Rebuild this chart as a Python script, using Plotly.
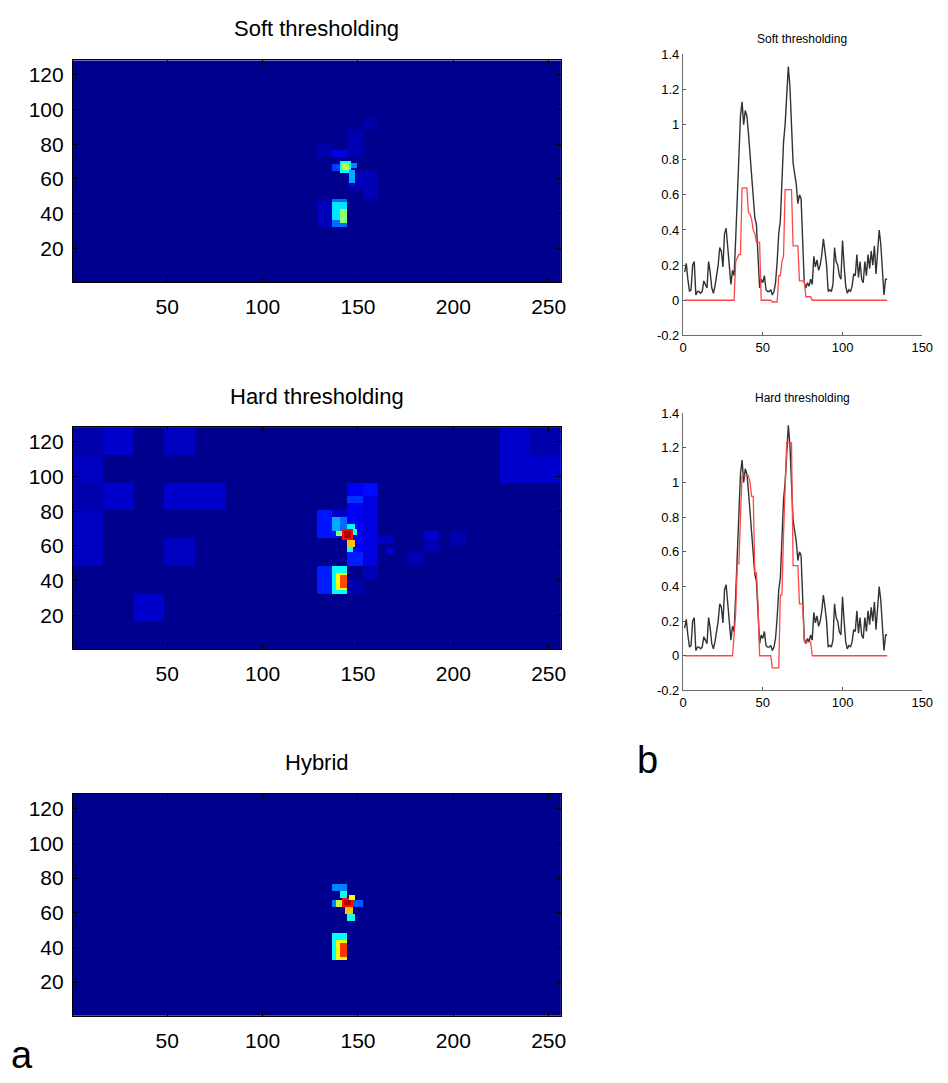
import numpy as np
import plotly.graph_objects as go

# ---------------- data ----------------
# Reconstructed maps on a 128 x 256 grid, described as rectangles:
# (col_start, col_end, row_start, row_end, value), applied in order.
soft_blocks = [
    (153, 160, 89, 95, 0.025),
    (129, 136, 73, 80, 0.03),
    (145, 152, 73, 88, 0.035),
    (137, 144, 73, 76, 0.085),
    (145, 160, 55, 64, 0.04),
    (153, 160, 49, 64, 0.04),
    (137, 140, 65, 68, 0.17),
    (141, 146, 64, 70, 0.37),
    (142, 145, 66, 69, 0.55),
    (147, 149, 67, 69, 0.24),
    (146, 148, 58, 65, 0.28),
    (129, 136, 33, 48, 0.045),
    (137, 144, 33, 48, 0.22),
    (137, 144, 37, 46, 0.34),
    (141, 144, 35, 42, 0.5),
]

hard_blocks = [
    (1, 16, 113, 128, 0.03),
    (17, 32, 113, 128, 0.06),
    (49, 64, 113, 128, 0.05),
    (1, 16, 97, 112, 0.05),
    (1, 16, 81, 96, 0.03),
    (17, 32, 81, 96, 0.06),
    (49, 80, 81, 96, 0.06),
    (1, 16, 65, 80, 0.05),
    (1, 16, 49, 64, 0.05),
    (49, 64, 49, 64, 0.05),
    (33, 48, 17, 32, 0.06),
    (225, 240, 113, 128, 0.06),
    (241, 256, 113, 128, 0.03),
    (225, 256, 97, 112, 0.06),
    (185, 192, 65, 68, 0.07),
    (185, 192, 57, 64, 0.035),
    (177, 184, 49, 56, 0.035),
    (199, 206, 61, 68, 0.03),
    (161, 168, 62, 66, 0.05),
    (165, 168, 56, 59, 0.07),
    (145, 152, 49, 96, 0.1),
    (145, 152, 85, 88, 0.16),
    (153, 160, 89, 96, 0.12),
    (153, 160, 49, 88, 0.08),
    (153, 160, 41, 48, 0.04),
    (145, 152, 33, 40, 0.03),
    (129, 144, 65, 80, 0.13),
    (137, 144, 77, 80, 0.06),
    (137, 140, 69, 76, 0.28),
    (141, 144, 69, 76, 0.22),
    (145, 148, 70, 72, 0.36),
    (139, 141, 66, 68, 0.5),
    (142, 147, 64, 69, 0.86),
    (143, 146, 65, 68, 0.95),
    (148, 149, 67, 69, 0.4),
    (145, 148, 60, 63, 0.68),
    (145, 147, 57, 59, 0.38),
    (145, 152, 49, 56, 0.14),
    (129, 136, 33, 48, 0.14),
    (137, 144, 33, 48, 0.37),
    (139, 144, 35, 44, 0.62),
    (141, 144, 36, 43, 0.8),
]

hybrid_blocks = [
    (137, 144, 73, 76, 0.24),
    (141, 144, 69, 72, 0.38),
    (137, 140, 64, 67, 0.24),
    (139, 141, 64, 67, 0.55),
    (142, 147, 64, 68, 0.86),
    (143, 146, 65, 67, 0.95),
    (146, 148, 68, 70, 0.62),
    (148, 152, 64, 67, 0.2),
    (144, 147, 60, 63, 0.68),
    (145, 148, 56, 59, 0.38),
    (137, 144, 33, 48, 0.37),
    (139, 144, 33, 44, 0.6),
    (141, 144, 35, 42, 0.82),
]

# 1-D profiles (128 samples)
profile_x = list(range(1, 129))
original = [
    0.16, 0.21, 0.12, 0.05, 0.06, 0.20, 0.22, 0.03, 0.05, 0.05,
    0.04, 0.05, 0.11, 0.09, 0.07, 0.22, 0.16, 0.07, 0.04, 0.08,
    0.13, 0.20, 0.30, 0.28, 0.19, 0.38, 0.41, 0.30, 0.15, 0.09,
    0.17, 0.14, 0.35, 0.60, 0.85, 1.05, 1.13, 1.00, 1.08, 1.05,
    0.95, 0.82, 0.72, 0.62, 0.47, 0.43, 0.22, 0.07, 0.12, 0.10,
    0.14, 0.06, 0.05, 0.05, 0.06, 0.03, 0.05, 0.10, 0.22, 0.38,
    0.45, 0.70, 0.90, 1.00, 1.15, 1.33, 1.22, 0.95, 0.78, 0.72,
    0.66, 0.55, 0.60, 0.58, 0.30, 0.10, 0.07, 0.10, 0.08, 0.12,
    0.09, 0.25, 0.19, 0.23, 0.17, 0.20, 0.26, 0.35, 0.28, 0.20,
    0.05, 0.06, 0.05, 0.09, 0.30, 0.22, 0.20, 0.14, 0.12, 0.34,
    0.20, 0.08, 0.04, 0.06, 0.05, 0.08, 0.15, 0.14, 0.26, 0.13,
    0.22, 0.12, 0.10, 0.22, 0.14, 0.26, 0.18, 0.28, 0.20, 0.31,
    0.15, 0.30, 0.40, 0.32, 0.15, 0.03, 0.12, 0.12,
]
soft_profile = (
    [0.0] * 32
    + [0.22, 0.24, 0.26, 0.26, 0.64, 0.64, 0.64, 0.64, 0.50, 0.49,
       0.46, 0.40, 0.38, 0.33, 0.33, 0.33]
    + [0.0] * 7
    + [-0.01, -0.01, -0.01, -0.01, 0.14, 0.14, 0.22, 0.25,
       0.63, 0.63, 0.63, 0.63, 0.63, 0.31, 0.31, 0.31, 0.31,
       0.11, 0.11, 0.11, 0.11, 0.02, 0.02, 0.02, 0.02]
    + [0.0] * 48
)
hard_profile = (
    [0.0] * 31
    + [0.12, 0.25, 0.53, 0.53, 0.80, 1.04, 1.04, 1.04, 1.04, 1.04,
       1.00, 0.92, 0.92, 0.48, 0.48, 0.30]
    + [0.0] * 8
    + [-0.07, -0.07, -0.07, -0.07, -0.07, 0.35, 0.35, 0.70, 0.95,
       1.23, 1.23, 1.23, 1.23, 0.52, 0.52, 0.52, 0.52,
       0.30, 0.30, 0.30, 0.08, 0.08, 0.08, 0.08, 0.08]
    + [0.0] * 48
)

heat_xticks = [50, 100, 150, 200, 250]
heat_yticks = [20, 40, 60, 80, 100, 120]
line_xticks = [0, 50, 100, 150]
line_yticks = [-0.2, 0, 0.2, 0.4, 0.6, 0.8, 1, 1.2, 1.4]
line_yticklabels = ["-0.2", "0", "0.2", "0.4", "0.6", "0.8", "1", "1.2", "1.4"]

# ---------------- helpers ----------------
JET = [
    [0.0, "rgb(0,0,143)"],
    [0.111, "rgb(0,0,255)"],
    [0.365, "rgb(0,255,255)"],
    [0.619, "rgb(255,255,0)"],
    [0.873, "rgb(255,0,0)"],
    [1.0, "rgb(128,0,0)"],
]


def build_map(blocks, nrows=128, ncols=256):
    z = np.zeros((nrows, ncols))
    for c0, c1, r0, r1, v in blocks:
        z[r0 - 1:r1, c0 - 1:c1] = v
    return z


W, H = 948, 1083


def px_dom(a, b, total):
    return [a / total, b / total]


def py_dom(top, bottom):
    return [1 - bottom / H, 1 - top / H]


FONT = "Liberation Sans, Arial, sans-serif"

fig = go.Figure()

heat_specs = [
    ("", soft_blocks, 54, 279, "Soft thresholding", 22),
    ("2", hard_blocks, 426, 651, "Hard thresholding", 395),
    ("3", hybrid_blocks, 798, 1023, "Hybrid", 766),
]

layout = dict(
    width=W, height=H,
    margin=dict(l=0, r=0, t=0, b=0),
    paper_bgcolor="white", plot_bgcolor="white",
    showlegend=False,
    annotations=[],
)

for suffix, blocks, top, bottom, title, title_y in heat_specs:
    fig.add_trace(go.Heatmap(
        z=build_map(blocks),
        x=list(range(1, 257)), y=list(range(1, 129)),
        colorscale=JET, zmin=0, zmax=1, showscale=False, zsmooth=False,
        xaxis="x" + suffix, yaxis="y" + suffix,
    ))
    layout["xaxis" + suffix] = dict(
        domain=px_dom(70, 566, W), range=[0.5, 256.5],
        tickvals=heat_xticks, ticks="inside", ticklen=5, tickcolor="black",
        showline=True, mirror="ticks", linecolor="black", linewidth=1,
        showgrid=False, zeroline=False, ticklabelstandoff=6,
        tickfont=dict(family=FONT, size=21, color="black"),
        anchor="y" + suffix,
    )
    layout["yaxis" + suffix] = dict(
        domain=py_dom(top, bottom), range=[0.5, 128.5],
        tickvals=heat_yticks, ticks="inside", ticklen=5, tickcolor="black",
        showline=True, mirror="ticks", linecolor="black", linewidth=1,
        showgrid=False, zeroline=False, ticklabelstandoff=4,
        tickfont=dict(family=FONT, size=21, color="black"),
        anchor="x" + suffix,
    )
    layout["annotations"].append(dict(
        text=title, x=318 / W, y=1 - title_y / H, xref="paper", yref="paper",
        xanchor="center", yanchor="middle", showarrow=False,
        font=dict(family=FONT, size=22, color="black"),
    ))

line_specs = [
    ("4", soft_profile, 48, 333, "Soft thresholding"),
    ("5", hard_profile, 412, 693, "Hard thresholding"),
]

for suffix, profile, top, bottom, title in line_specs:
    fig.add_trace(go.Scatter(
        x=profile_x, y=original, mode="lines",
        line=dict(color="rgb(50,50,50)", width=1.4),
        xaxis="x" + suffix, yaxis="y" + suffix,
    ))
    fig.add_trace(go.Scatter(
        x=profile_x, y=profile, mode="lines",
        line=dict(color="rgb(255,70,70)", width=1.3),
        xaxis="x" + suffix, yaxis="y" + suffix,
    ))
    layout["xaxis" + suffix] = dict(
        domain=px_dom(690, 933, W), range=[0, 150],
        tickvals=line_xticks, ticks="inside", ticklen=3, tickcolor="rgb(90,90,90)",
        showline=True, linecolor="rgb(110,110,110)", linewidth=1.3,
        showgrid=False, zeroline=False,
        tickfont=dict(family=FONT, size=13, color="black"),
        anchor="y" + suffix,
    )
    layout["yaxis" + suffix] = dict(
        domain=py_dom(top, bottom), range=[-0.2, 1.4],
        tickvals=line_yticks, ticktext=line_yticklabels,
        ticks="inside", ticklen=3, tickcolor="rgb(90,90,90)",
        showline=True, linecolor="rgb(110,110,110)", linewidth=1.3,
        showgrid=False, zeroline=False,
        tickfont=dict(family=FONT, size=13, color="black"),
        anchor="x" + suffix,
    )
    layout["annotations"].append(dict(
        text=title, x=811 / W, y=1 - (top - 16) / H, xref="paper", yref="paper",
        xanchor="center", yanchor="middle", showarrow=False,
        font=dict(family=FONT, size=12, color="black"),
    ))

# panel letters
layout["annotations"].append(dict(
    text="a", x=18 / W, y=1 - 1063 / H, xref="paper", yref="paper",
    xanchor="center", yanchor="middle", showarrow=False,
    font=dict(family=FONT, size=38, color="black"),
))
layout["annotations"].append(dict(
    text="b", x=654 / W, y=1 - 764 / H, xref="paper", yref="paper",
    xanchor="center", yanchor="middle", showarrow=False,
    font=dict(family=FONT, size=38, color="black"),
))

fig.update_layout(**layout)
fig.write_html("out.html")
